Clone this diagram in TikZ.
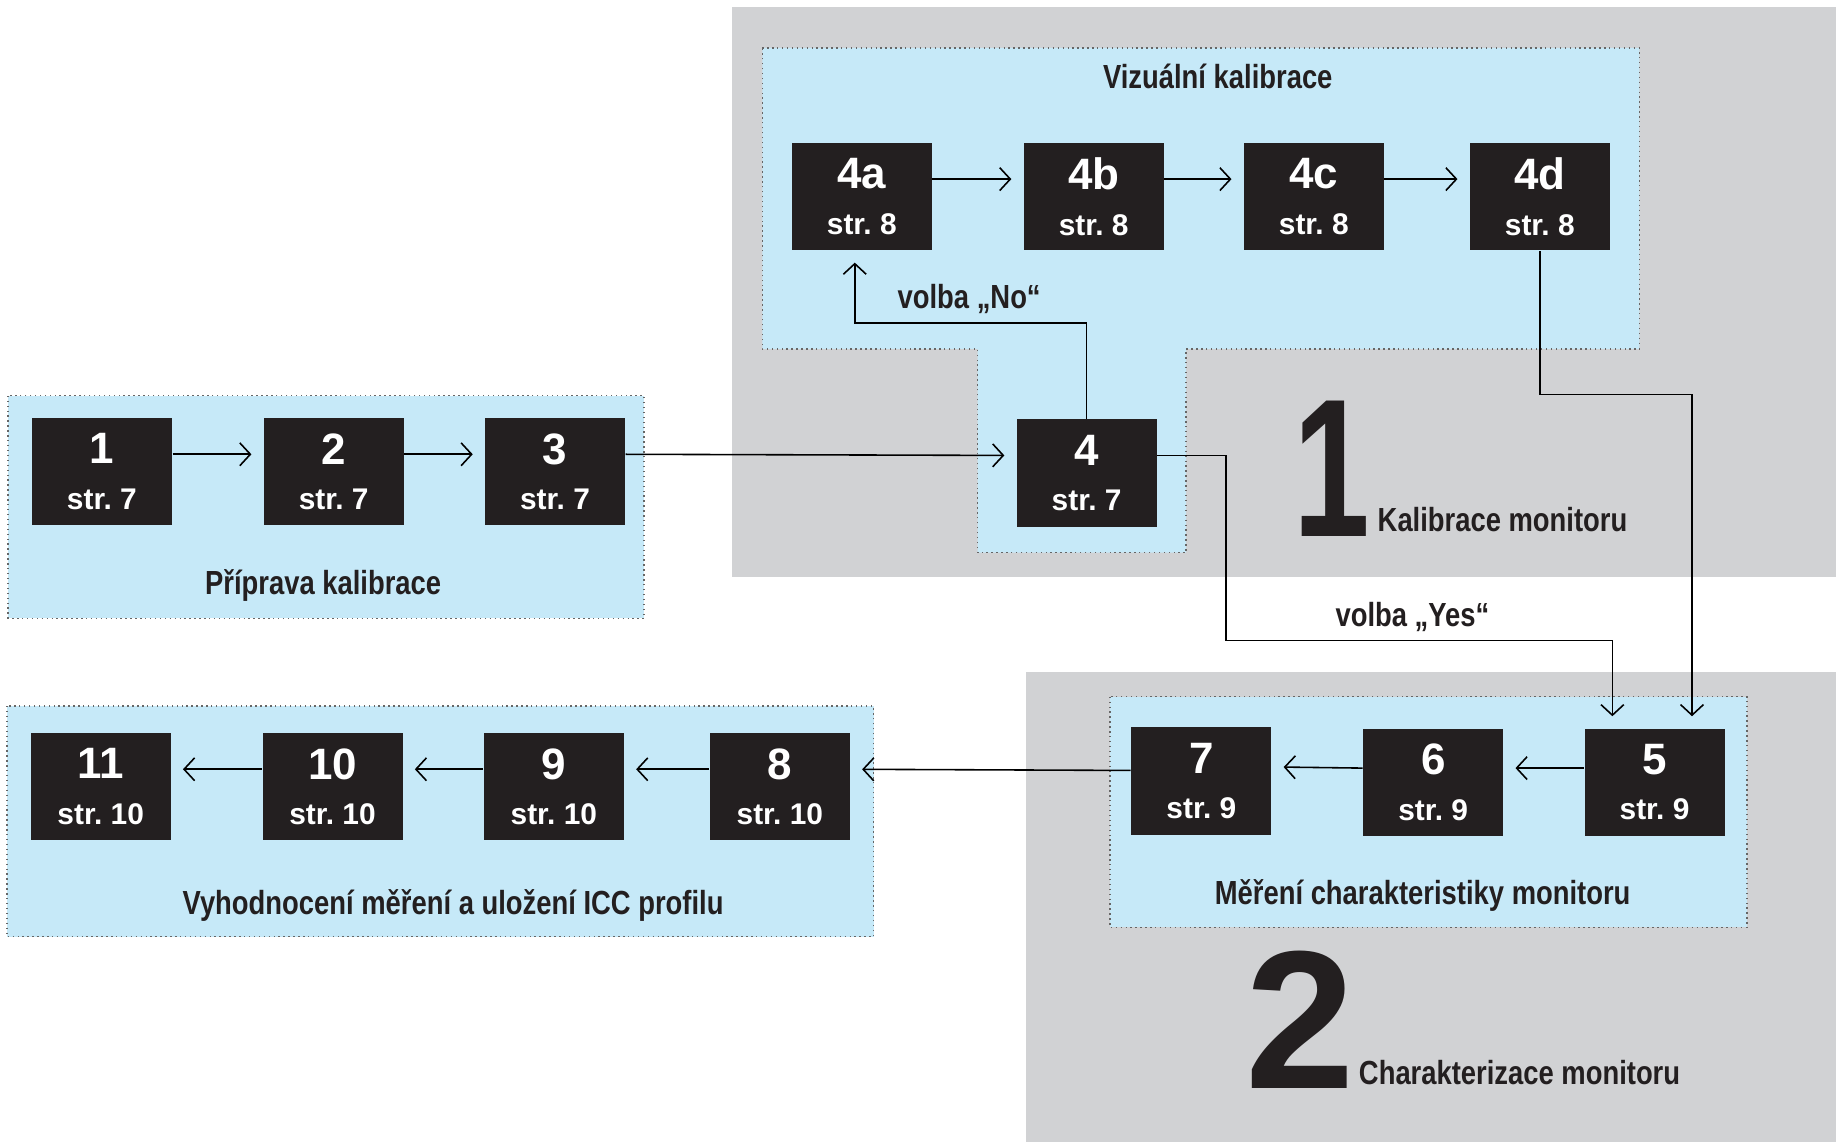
\documentclass[tikz,border=0pt]{standalone}
\usepackage{fontspec}
\setmainfont{Liberation Sans}
\newfontfamily\uzkepismo{Liberation Sans}[FakeStretch=0.82]
\usetikzlibrary{arrows.meta}

\definecolor{sedapozadi}{HTML}{D1D2D4}
\definecolor{modrapole}{HTML}{C6E9F8}
\definecolor{cernadlazdice}{HTML}{231F20}

\tikzset{
  dlazdice/.style={fill=cernadlazdice, text=white, minimum width=39.8pt, minimum height=30.5pt,
    inner sep=0pt, align=center, font=\bfseries},
  pole/.style={fill=modrapole, draw=black!60, densely dotted, line width=0.4pt},
  spoj/.style={-{Straight Barb[length=3pt,width=6.5pt]}, line width=0.45pt, shorten >=3.3pt},
  popis/.style={font=\uzkepismo\bfseries\fontsize{9.5}{11}\selectfont, text=cernadlazdice, inner sep=0pt},
  velkecislo/.style={font=\bfseries\fontsize{56}{56}\selectfont, text=cernadlazdice, inner sep=0pt, anchor=base west},
}

\newcommand\dlazdtext[2]{{\fontsize{12.5}{13}\selectfont #1}\\[1pt]{\fontsize{8.5}{10}\selectfont str.~#2}}

\begin{document}
\begin{tikzpicture}[x=0.011709cm, y=-0.011709cm]

  \useasboundingbox (0,0) rectangle (1568,975);

  % Sede plochy (1 a 2)
  \fill[sedapozadi] (625,6) rectangle (1568,493);
  \fill[sedapozadi] (876,574) rectangle (1568,975);

  % Modra pole
  \draw[pole] (7,338) rectangle (550,528);
  \draw[pole] (651,41) -- (1400,41) -- (1400,298) -- (1013,298) -- (1013,472)
    -- (835,472) -- (835,298) -- (651,298) -- cycle;
  \draw[pole] (948,595) rectangle (1492,792);
  \draw[pole] (6,603) rectangle (746,800);

  % Priprava kalibrace
  \node[dlazdice] (n1) at (87,403) {\dlazdtext{1}{7}};
  \node[dlazdice] (n2) at (285,403) {\dlazdtext{2}{7}};
  \node[dlazdice] (n3) at (474,403) {\dlazdtext{3}{7}};
  \node[popis] (lPriprava) at (276,500) {Příprava kalibrace};

  % Vizualni kalibrace
  \node[popis] (lVizualni) at (1040,65) {Vizuální kalibrace};
  \node[dlazdice] (n4a) at (736,168) {\dlazdtext{4a}{8}};
  \node[dlazdice] (n4b) at (934,168) {\dlazdtext{4b}{8}};
  \node[dlazdice] (n4c) at (1122,168) {\dlazdtext{4c}{8}};
  \node[dlazdice] (n4d) at (1315,168) {\dlazdtext{4d}{8}};
  \node[dlazdice] (n4) at (928,404) {\dlazdtext{4}{7}};

  % Mereni charakteristiky
  \node[dlazdice] (n5) at (1413,668) {\dlazdtext{5}{9}};
  \node[dlazdice] (n6) at (1224,668) {\dlazdtext{6}{9}};
  \node[dlazdice] (n7) at (1026,667) {\dlazdtext{7}{9}};
  \node[popis] (lMereni) at (1215,765) {Měření charakteristiky monitoru};

  % Vyhodnoceni a ICC profil
  \node[dlazdice] (n8) at (666,672) {\dlazdtext{8}{10}};
  \node[dlazdice] (n9) at (473,672) {\dlazdtext{9}{10}};
  \node[dlazdice] (n10) at (284,672) {\dlazdtext{10}{10}};
  \node[dlazdice] (n11) at (86,672) {\dlazdtext{11}{10}};
  \node[popis] (lVyhodnoceni) at (387,773) {Vyhodnocení měření a uložení ICC profilu};

  % Velka cisla
  \node[velkecislo] (c1) at (1104,458) {\scalebox{0.7}[1]{1}};
  \node[popis, anchor=base west] (lKalibrace) at (1176,454) {Kalibrace monitoru};
  \node[velkecislo] (c2) at (1063,930) {2};
  \node[popis, anchor=base west] (lCharakt) at (1160,926) {Charakterizace monitoru};

  % Spoje
  \draw[spoj] ([yshift=5pt]n1.east) -- ([yshift=5pt]n2.west);
  \draw[spoj] ([yshift=5pt]n2.east) -- ([yshift=5pt]n3.west);
  \draw[spoj] ([yshift=5pt]n3.east) -- ([yshift=5pt]n4.west);
  \draw[spoj] ([yshift=5pt]n4a.east) -- ([yshift=5pt]n4b.west);
  \draw[spoj] ([yshift=5pt]n4b.east) -- ([yshift=5pt]n4c.west);
  \draw[spoj] ([yshift=5pt]n4c.east) -- ([yshift=5pt]n4d.west);

  % volba No
  \coordinate (noOhyb) at (730,276);
  \draw[spoj] (n4.north) |- (noOhyb) -- (noOhyb |- n4a.south);
  \node[popis, anchor=west] (lNo) at (766,255) {volba „No“};

  % 4d -> 5
  \coordinate (dOhyb) at (1445,337);
  \draw[spoj] (n4d.south) |- (dOhyb) -- (dOhyb |- n5.north);

  % volba Yes
  \coordinate (yesA) at (1047,547);
  \coordinate (yesB) at (1377,547);
  \draw[spoj] ([yshift=5pt]n4.east) -| (yesA) -- (yesB) -- (yesB |- n5.north);
  \node[popis, anchor=west] (lYes) at (1140,527) {volba „Yes“};

  \draw[spoj] ([yshift=4pt]n5.west) -- ([yshift=4pt]n6.east);
  \draw[spoj] ([yshift=4pt]n6.west) -- ([yshift=4pt]n7.east);
  \draw[spoj] ([yshift=3pt]n7.west) -- ([yshift=5pt]n8.east);
  \draw[spoj] ([yshift=5pt]n8.west) -- ([yshift=5pt]n9.east);
  \draw[spoj] ([yshift=5pt]n9.west) -- ([yshift=5pt]n10.east);
  \draw[spoj] ([yshift=5pt]n10.west) -- ([yshift=5pt]n11.east);

\end{tikzpicture}
\end{document}
